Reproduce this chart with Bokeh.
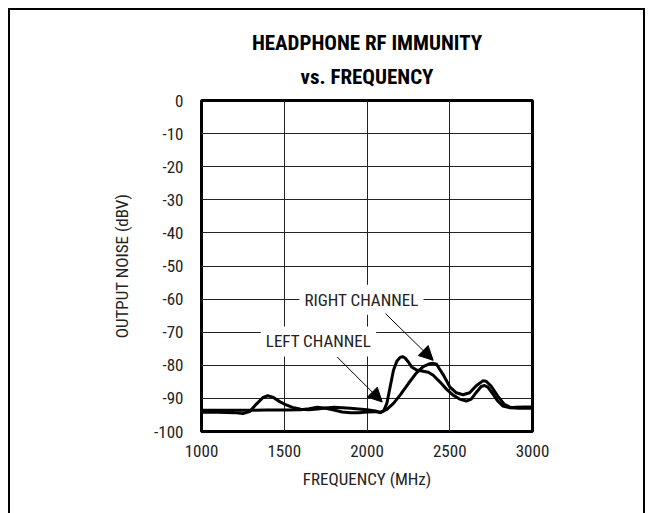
from bokeh.plotting import figure
from bokeh.models import Label, Arrow, NormalHead, FixedTicker, Range1d, Title
from bokeh.embed import file_html
from bokeh.resources import INLINE

# ---------------- data ----------------
left_freq = [1000, 1100, 1200, 1300, 1400, 1500, 1600, 1650, 1700, 1750, 1800, 1850, 1900, 1950,
             2000, 2050, 2080, 2100, 2120, 2140, 2160, 2180, 2200, 2215, 2230, 2250, 2270, 2300,
             2340, 2370, 2400, 2440, 2480, 2520, 2560, 2600, 2630, 2660, 2690, 2710, 2730, 2760,
             2790, 2820, 2860, 2900, 2950, 3000]
left_db = [-93.6, -93.6, -93.6, -93.6, -93.5, -93.5, -93.4, -93.1, -92.7, -93.0, -93.5, -94.1, -94.3, -94.3,
           -94.1, -94.0, -94.3, -93.8, -91.5, -86.5, -81.5, -78.8, -77.6, -77.4, -77.8, -79.0, -80.5, -81.4,
           -81.8, -82.1, -83.0, -85.0, -87.2, -89.0, -90.2, -90.8, -90.2, -88.2, -86.4, -86.1, -86.6, -88.6,
           -90.8, -92.3, -92.8, -92.7, -92.6, -92.6]

right_freq = [1000, 1100, 1200, 1250, 1290, 1330, 1370, 1400, 1430, 1470, 1500, 1550, 1600, 1650, 1700,
              1750, 1800, 1850, 1900, 1950, 2000, 2050, 2080, 2120, 2160, 2200, 2250, 2300, 2340, 2380,
              2400, 2420, 2460, 2500, 2540, 2580, 2620, 2660, 2700, 2720, 2750, 2790, 2830, 2870, 2920, 3000]
right_db = [-94.2, -94.2, -94.3, -94.6, -94.0, -91.8, -89.8, -89.2, -89.6, -90.9, -91.7, -92.7, -93.3, -93.4, -93.2,
            -92.9, -92.7, -92.8, -93.0, -93.2, -93.4, -93.8, -94.2, -93.3, -91.5, -89.0, -85.5, -82.2, -80.4, -79.5,
            -79.4, -79.7, -82.8, -86.5, -88.3, -88.9, -88.3, -86.2, -84.7, -84.8, -86.3, -89.3, -91.8, -92.8, -93.0, -93.0]

x_ticks = [1000, 1500, 2000, 2500, 3000]
y_ticks = [0, -10, -20, -30, -40, -50, -60, -70, -80, -90, -100]

title_lines = ["HEADPHONE RF IMMUNITY", "vs. FREQUENCY"]
x_label = "FREQUENCY (MHz)"
y_label = "OUTPUT NOISE (dBV)"
series_labels = ["LEFT CHANNEL", "RIGHT CHANNEL"]

# ---------------- figure ----------------
FONT = "Roboto Condensed, Liberation Sans Narrow, DejaVu Sans Condensed, sans-serif"
TXT = "#222222"
FS = "17px"

p = figure(width=633, height=505, frame_width=331, frame_height=331,
           min_border_left=191, min_border_right=111, min_border_top=90, min_border_bottom=84,
           x_range=Range1d(1000, 3000), y_range=Range1d(-100, 0),
           output_backend="svg", toolbar_location=None,
           styles={"border": "2px solid black", "margin-left": "8px", "margin-top": "8px"})

p.background_fill_color = "white"
p.border_fill_color = "white"
p.outline_line_color = "black"
p.outline_line_width = 3
p.outline_line_alpha = 1.0

for ax in (p.xaxis[0], p.yaxis[0]):
    ax.axis_line_color = None
    ax.major_tick_line_color = None
    ax.minor_tick_line_color = None
    ax.major_tick_out = 0
    ax.major_tick_in = 0
    ax.major_label_text_font = FONT
    ax.major_label_text_font_size = FS
    ax.major_label_text_color = TXT
    ax.axis_label_text_font = FONT
    ax.axis_label_text_font_size = FS
    ax.axis_label_text_font_style = "normal"
    ax.axis_label_text_color = TXT

p.xaxis.ticker = FixedTicker(ticks=x_ticks)
p.yaxis.ticker = FixedTicker(ticks=y_ticks)
p.xaxis.major_label_overrides = {t: str(t) for t in x_ticks}
p.yaxis.major_label_overrides = {t: str(t) for t in y_ticks}
p.xaxis.major_label_standoff = 13
p.yaxis.major_label_standoff = 18
p.xaxis.axis_label = x_label
p.yaxis.axis_label = y_label
p.xaxis.axis_label_standoff = 9
p.yaxis.axis_label_standoff = 19

p.xgrid.grid_line_color = TXT
p.ygrid.grid_line_color = TXT
p.xgrid.grid_line_width = 1
p.ygrid.grid_line_width = 1

# curves
p.line(left_freq, left_db, line_color="black", line_width=3, line_join="round")
p.line(right_freq, right_db, line_color="black", line_width=3, line_join="round")

# title: two stacked lines, the one nearest the frame first
p.add_layout(Title(text=title_lines[1], align="center", text_font=FONT, text_font_size="21px",
                   text_font_style="bold", text_color="black", standoff=24), "above")
p.add_layout(Title(text=title_lines[0], align="center", text_font=FONT, text_font_size="21px",
                   text_font_style="bold", text_color="black", standoff=-8), "above")

# series labels with white boxes
p.add_layout(Label(x=1707, y=-72.8, text=series_labels[0], text_align="center", text_baseline="middle",
                   text_font=FONT, text_font_size=FS, text_color=TXT,
                   background_fill_color="white", padding=5))
p.add_layout(Label(x=1967, y=-60.2, text=series_labels[1], text_align="center", text_baseline="middle",
                   text_font=FONT, text_font_size=FS, text_color=TXT,
                   background_fill_color="white", padding=5))

# arrows
p.add_layout(Arrow(end=NormalHead(size=14, fill_color="black", line_color="black"),
                   x_start=1820, y_start=-77.5, x_end=2092, y_end=-91.1,
                   line_color="black", line_width=1))
p.add_layout(Arrow(end=NormalHead(size=14, fill_color="black", line_color="black"),
                   x_start=2112, y_start=-64.4, x_end=2400, y_end=-78.5,
                   line_color="black", line_width=1))

open("out.html", "w").write(file_html(p, INLINE))
